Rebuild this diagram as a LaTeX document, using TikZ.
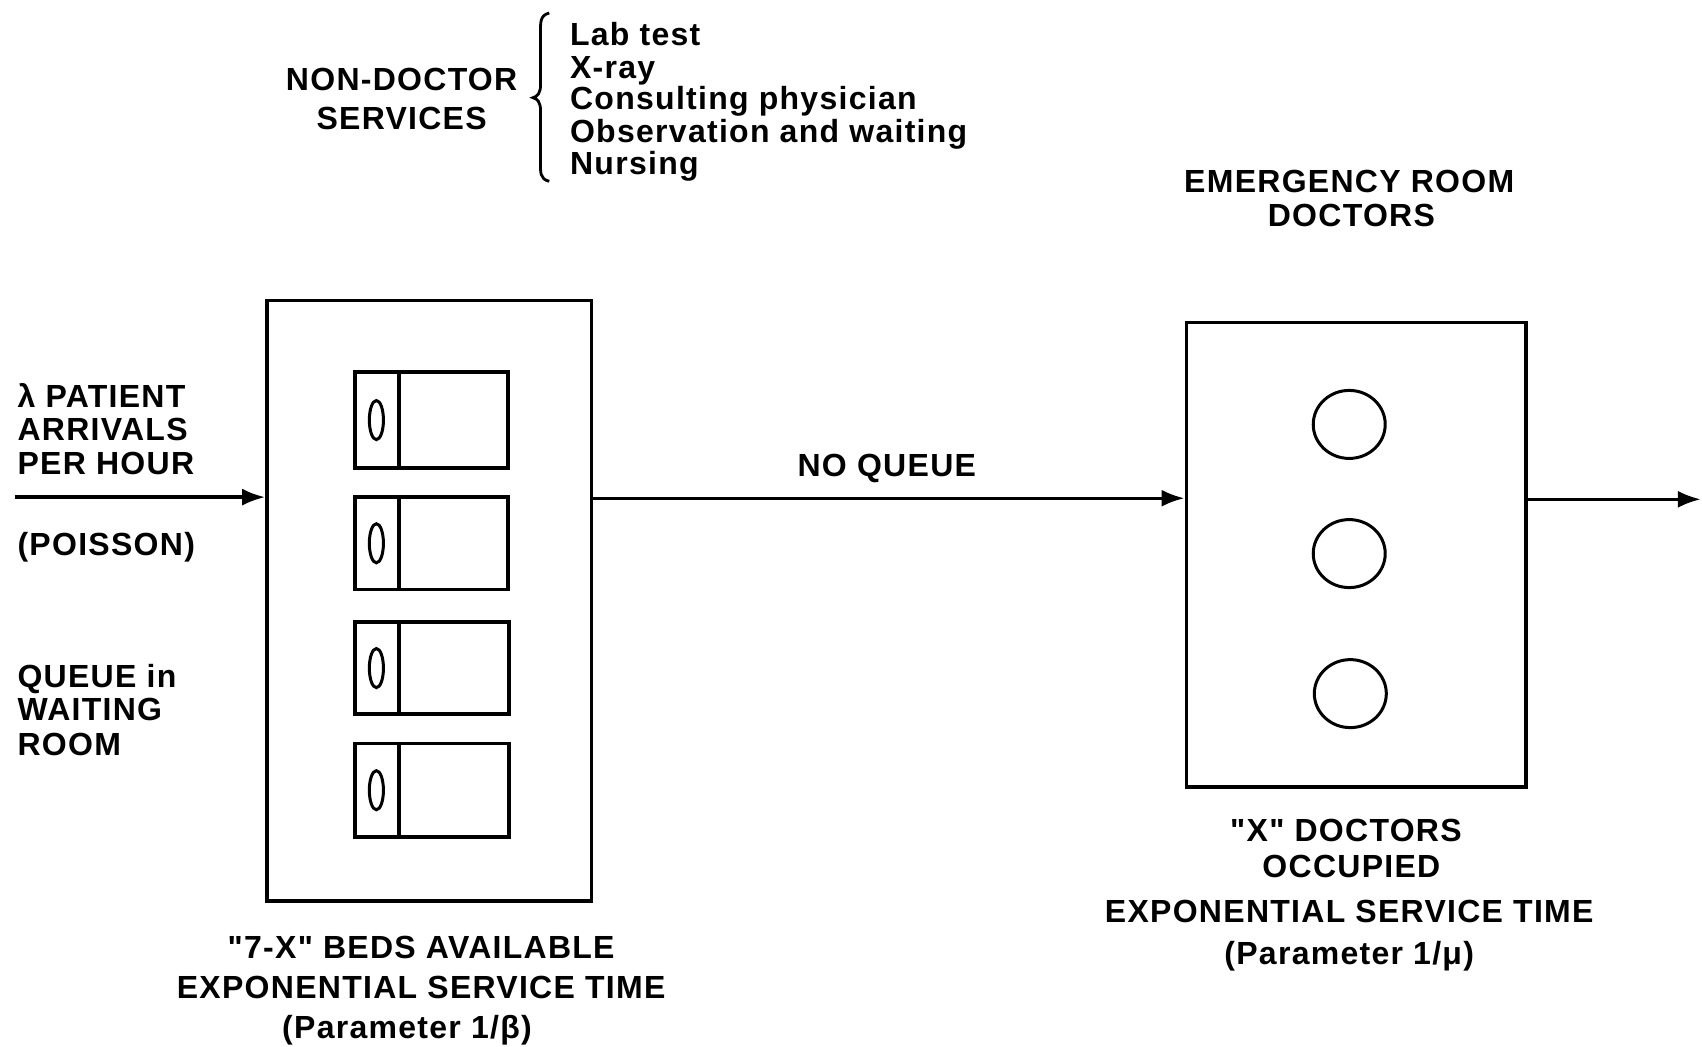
\documentclass[tikz,border=0pt]{standalone}
\usepackage{fontspec}
\newfontfamily\labfont{Liberation Sans}[LetterSpace=4]
\usetikzlibrary{arrows.meta,fit,shapes.geometric}
\begin{document}
\begin{tikzpicture}[x=1.0855pt,y=-1.0855pt,
  lbl/.style={inner sep=0pt, font=\labfont\bfseries\fontsize{32}{36}\selectfont},
  box/.style={draw, line width=3.6pt, inner sep=0pt},
  bed/.style={draw, line width=3.8pt, inner sep=0pt},
  doc/.style={draw, ellipse, line width=3pt, minimum width=72pt, minimum height=68pt, inner sep=0pt},
  zero/.style={line width=3pt},
  flow/.style={line width=3.4pt, -{Latex[length=23pt,width=17pt]}},
  bracepath/.style={line width=2.8pt}]
\useasboundingbox (0,0) rectangle (1568,964);

% ---- top labels
\node[lbl, anchor=base] (nd1) at (370,83) {NON-DOCTOR};
\node[lbl, anchor=base] (nd2) at (370,119) {SERVICES};
\draw[bracepath] (506,12) .. controls (497,14) and (498,22) .. (498,30) -- (498,78)
  .. controls (498,86) and (495,89) .. (491,90)
  .. controls (495,91) and (498,94) .. (498,102) -- (498,150)
  .. controls (498,158) and (497,165) .. (506,167);
\node[lbl, anchor=base west] (s1) at (525,42) {Lab test};
\node[lbl, anchor=base west] (s2) at (525,72) {X-ray};
\node[lbl, anchor=base west] (s3) at (525,101) {Consulting physician};
\node[lbl, anchor=base west] (s4) at (525,131) {Observation and waiting};
\node[lbl, anchor=base west] (s5) at (525,161) {Nursing};

\node[lbl, anchor=base] (er1) at (1243,177) {EMERGENCY ROOM};
\node[lbl, anchor=base] (er2) at (1245,209) {DOCTORS};

% ---- left labels
\node[lbl, anchor=base west] (a1) at (16,375) {λ PATIENT};
\node[lbl, anchor=base west] (a2) at (16,406) {ARRIVALS};
\node[lbl, anchor=base west] (a3) at (16,437) {PER HOUR};
\node[lbl, anchor=base west] (p1) at (16,512) {(POISSON)};
\node[lbl, anchor=base west] (q1) at (16,633) {QUEUE in};
\node[lbl, anchor=base west] (q2) at (16,664) {WAITING};
\node[lbl, anchor=base west] (q3) at (16,696) {ROOM};

% ---- bed box
\node[box, fit={(246,277) (545,830)}] (beds) {};
\node[bed, fit={(327,343) (468,431)}] (bed1) {};
\node[bed, fit={(327,458) (468,543)}] (bed2) {};
\node[bed, fit={(327,573) (469,658)}] (bed3) {};
\node[bed, fit={(327,685) (469,771)}] (bed4) {};
\foreach \b in {1,2,3,4}{
  \draw[line width=3.8pt] (bed\b.north west) ++(42,0) coordinate (d\b) -- (d\b |- bed\b.south);
  \draw[zero] (bed\b.west) ++(21.5,0) ellipse [x radius=6.5, y radius=18];
}

\node[lbl, anchor=base] (b1) at (388,883) {"7-X" BEDS AVAILABLE};
\node[lbl, anchor=base] (b2) at (388,920) {EXPONENTIAL SERVICE TIME};
\node[lbl, anchor=base] (b3) at (375,957) {(Parameter 1/β)};

% ---- doctors box
\node[box, fit={(1093,297) (1406,725)}] (docs) {};
\node[doc] (c1) at (1243,391) {};
\node[doc] (c2) at (1243,510) {};
\node[doc] (c3) at (1244,639) {};

\node[lbl, anchor=base] (x1) at (1240,775) {"X" DOCTORS};
\node[lbl, anchor=base] (x2) at (1245,808) {OCCUPIED};
\node[lbl, anchor=base] (x3) at (1243,850) {EXPONENTIAL SERVICE TIME};
\node[lbl, anchor=base] (x4) at (1243,889) {(Parameter 1/μ)};

% ---- flow
\coordinate (in) at (14,458);
\coordinate (mid) at (800,459);
\coordinate (out) at (1567,460);
\draw[flow] (in) -- (in -| beds.west);
\draw[flow] (beds.east |- mid) -- (docs.west |- mid);
\draw[flow] (docs.east |- out) -- (out);
\node[lbl, anchor=base] (nq) at (817,439) {NO QUEUE};
\end{tikzpicture}
\end{document}
